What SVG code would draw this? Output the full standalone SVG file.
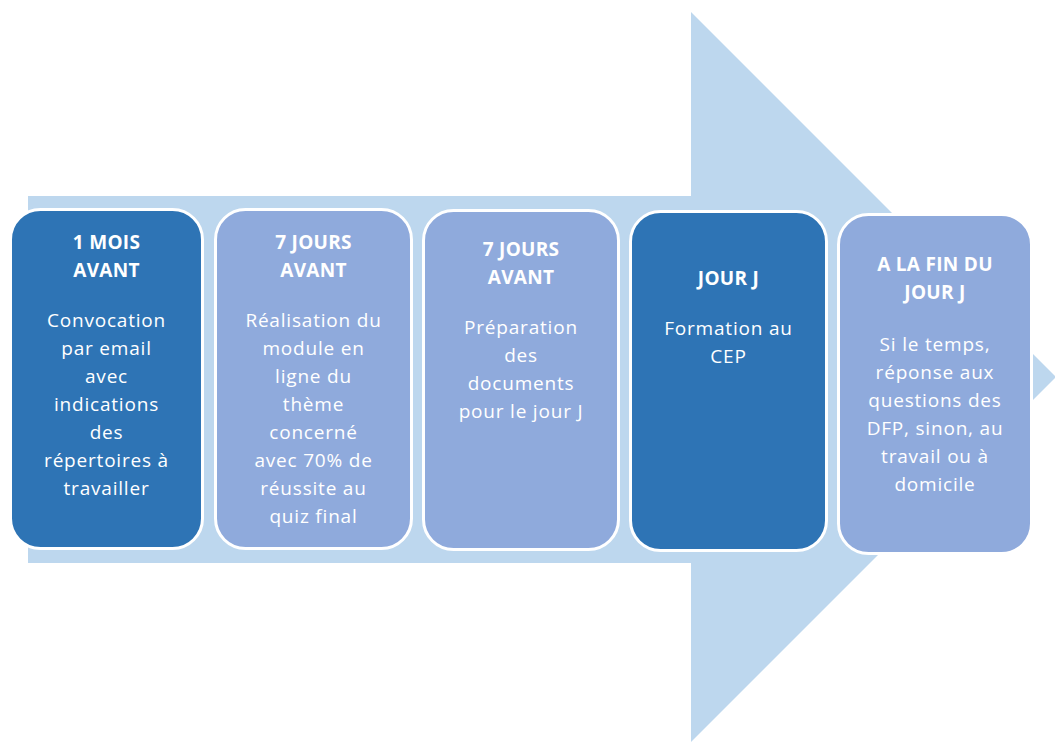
<svg xmlns="http://www.w3.org/2000/svg" width="1055" height="743" viewBox="0 0 1055 743">
<style>
.arrow{fill:#BDD7EE}
.box{stroke:#FFFFFF;stroke-width:3}
.dark{fill:#2E74B5}
.light{fill:#8FAADC}
text{font-family:"Open Sans","Liberation Sans",sans-serif;fill:#FFFFFF;text-anchor:middle}
.h{font-weight:bold;font-size:19px;letter-spacing:0.3px}
.b{font-size:19px;letter-spacing:0.8px}
</style>
<g id="arrow">
<polygon class="arrow" points="28,196 691,196 691,12 1056,377 691,742 691,563 28,563"/>
</g>
<g id="node1">
<rect class="box dark" x="10.5" y="209.5" width="192" height="339" rx="30"/>
<text class="h" x="106.5" y="249">1 MOIS</text>
<text class="h" x="106.5" y="277">AVANT</text>
<text class="b" x="106.5" y="327">Convocation</text>
<text class="b" x="106.5" y="355">par email</text>
<text class="b" x="106.5" y="383">avec</text>
<text class="b" x="106.5" y="411">indications</text>
<text class="b" x="106.5" y="439">des</text>
<text class="b" x="106.5" y="467">répertoires à</text>
<text class="b" x="106.5" y="495">travailler</text>
</g>
<g id="node2">
<rect class="box light" x="215.5" y="209.5" width="196" height="339" rx="30"/>
<text class="h" x="313.5" y="249">7 JOURS</text>
<text class="h" x="313.5" y="277">AVANT</text>
<text class="b" x="313.5" y="327">Réalisation du</text>
<text class="b" x="313.5" y="355">module en</text>
<text class="b" x="313.5" y="383">ligne du</text>
<text class="b" x="313.5" y="411">thème</text>
<text class="b" x="313.5" y="439">concerné</text>
<text class="b" x="313.5" y="467">avec 70% de</text>
<text class="b" x="313.5" y="495">réussite au</text>
<text class="b" x="313.5" y="523">quiz final</text>
</g>
<g id="node3">
<rect class="box light" x="423.5" y="210.5" width="195" height="339" rx="30"/>
<text class="h" x="521" y="256">7 JOURS</text>
<text class="h" x="521" y="284">AVANT</text>
<text class="b" x="521" y="334">Préparation</text>
<text class="b" x="521" y="362">des</text>
<text class="b" x="521" y="390">documents</text>
<text class="b" x="521" y="418">pour le jour J</text>
</g>
<g id="node4">
<rect class="box dark" x="630.5" y="211.5" width="196" height="339" rx="30"/>
<text class="h" x="728.5" y="285">JOUR J</text>
<text class="b" x="728.5" y="335">Formation au</text>
<text class="b" x="728.5" y="363">CEP</text>
</g>
<g id="node5">
<rect class="box light" x="838.5" y="214.5" width="193" height="339" rx="30"/>
<text class="h" x="935" y="271">A LA FIN DU</text>
<text class="h" x="935" y="299">JOUR J</text>
<text class="b" x="935" y="351">Si le temps,</text>
<text class="b" x="935" y="379">réponse aux</text>
<text class="b" x="935" y="407">questions des</text>
<text class="b" x="935" y="435">DFP, sinon, au</text>
<text class="b" x="935" y="463">travail ou à</text>
<text class="b" x="935" y="491">domicile</text>
</g>
<g id="connectors"></g>
</svg>
